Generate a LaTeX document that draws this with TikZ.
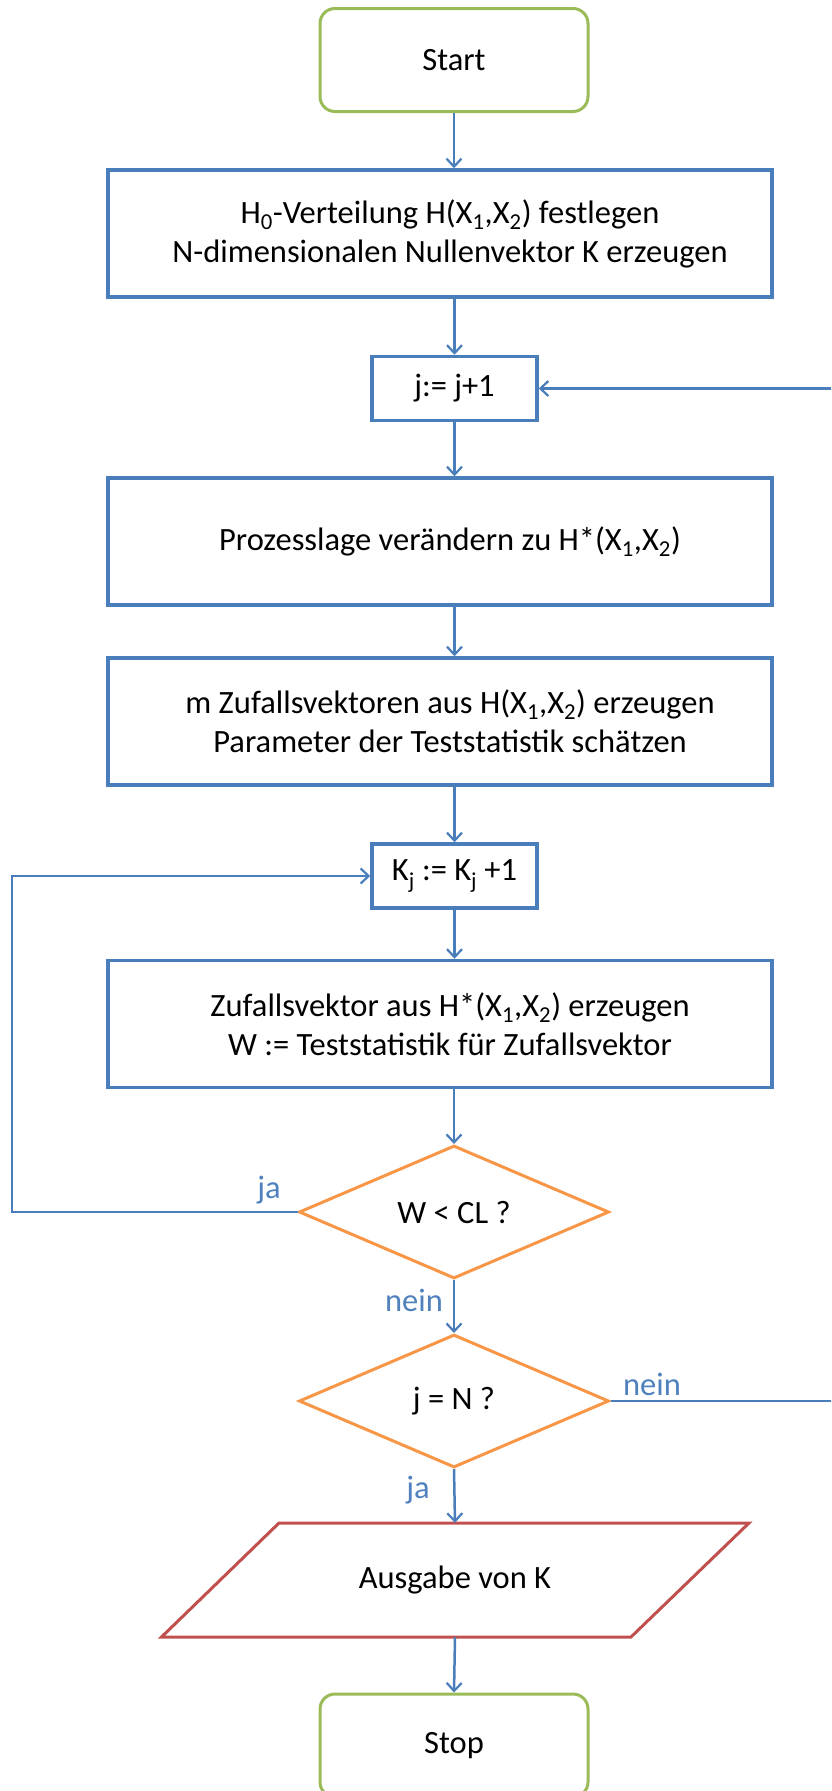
\documentclass[tikz,border=0pt]{standalone}
\usepackage{fontspec}
\setmainfont{Carlito}
\usetikzlibrary{arrows.meta,shapes.geometric}
\definecolor{fblue}{HTML}{4A7EBB}
\definecolor{lblue}{HTML}{4F81BD}
\definecolor{fgreen}{HTML}{9BBB59}
\definecolor{forange}{HTML}{F79646}
\definecolor{fred}{HTML}{C0504D}
\tikzset{
  every node/.style={font=\fontsize{32.5}{39}\selectfont, text=black},
  term/.style={draw=fgreen, line width=3pt, rounded corners=15pt, minimum width=268pt, minimum height=103pt},
  procbox/.style={draw=fblue, line width=3.5pt, minimum width=664pt, minimum height=127pt, align=center},
  smallbox/.style={draw=fblue, line width=3.5pt, minimum width=165pt, minimum height=64pt},
  decision/.style={draw=forange, line width=3pt, diamond, aspect=2.33, minimum width=310pt, minimum height=133pt, inner sep=0pt},
  iobox/.style={draw=fred, line width=3pt},
  arr/.style={draw=fblue, line width=2.5pt, -{Straight Barb[length=8pt,width=15pt,line width=2.2pt]}},
  lab/.style={text=lblue}
}
\begin{document}
\begin{tikzpicture}[x=1pt,y=-1pt]
\useasboundingbox (0,0) rectangle (831,1791);
\clip (0,0) rectangle (831,1791);
\node[term] (start) at (454,60) {Start};
\node[procbox] (b1) at (440,233.5) {\hspace*{20pt}H\textsubscript{0}-Verteilung H(X\textsubscript{1},X\textsubscript{2}) festlegen\\\hspace*{20pt}N-dimensionalen Nullenvektor K erzeugen};
\node[smallbox] (j) at (454.5,388.5) {j:= j+1};
\node[procbox] (b3) at (440,541.5) {\hspace*{20pt}Prozesslage verändern zu H*(X\textsubscript{1},X\textsubscript{2})};
\node[procbox] (b4) at (440,721.5) {\hspace*{20pt}m Zufallsvektoren aus H(X\textsubscript{1},X\textsubscript{2}) erzeugen\\\hspace*{20pt}Parameter der Teststatistik schätzen};
\node[smallbox] (kj) at (454.5,876) {K\textsubscript{j} := K\textsubscript{j} +1};
\node[procbox] (b5) at (440,1024) {\hspace*{20pt}Zufallsvektor aus H*(X\textsubscript{1},X\textsubscript{2}) erzeugen\\\hspace*{20pt}W := Teststatistik für Zufallsvektor};
\node[decision] (d1) at (454,1212) {W < CL ?};
\node[decision] (d2) at (454,1401) {j = N ?};
\coordinate (p1) at (279,1523);
\coordinate (p2) at (749,1523);
\coordinate (p3) at (631,1637);
\coordinate (p4) at (161.5,1637);
\draw[iobox] (p1) -- (p2) -- (p3) -- (p4) -- cycle;
\node[minimum width=470pt, minimum height=114pt, inner sep=0pt] (para) at (455,1580) {Ausgabe von K};
\node[term] (stop) at (454,1745.5) {Stop};
\node[lab] (ja1) at (269,1190) {ja};
\node[lab] (nein1) at (414,1300) {nein};
\node[lab] (nein2) at (652,1384) {nein};
\node[lab] (ja2) at (418,1490) {ja};
\coordinate (lx) at (12,876);
\coordinate (rx) at (836,1401);
\draw[arr] (start.south) -- (start.south |- b1.north);
\draw[arr] (j.north |- b1.south) -- (j.north);
\draw[arr] (j.south) -- (j.south |- b3.north);
\draw[arr] (kj.north |- b3.south) -- (kj.north |- b4.north);
\draw[arr] (kj.north |- b4.south) -- (kj.north);
\draw[arr] (kj.south) -- (kj.south |- b5.north);
\draw[arr] (d1.north |- b5.south) -- (d1.north);
\draw[arr] (d1.west) -| (lx) -- (kj.west);
\draw[arr] (d1.south) -- (d2.north);
\draw[arr] (d2.east) -- (rx) |- (j.east);
\draw[arr] (d2.south) -- (para.north);
\draw[arr] (para.south) -- (stop.north);
\end{tikzpicture}
\end{document}
